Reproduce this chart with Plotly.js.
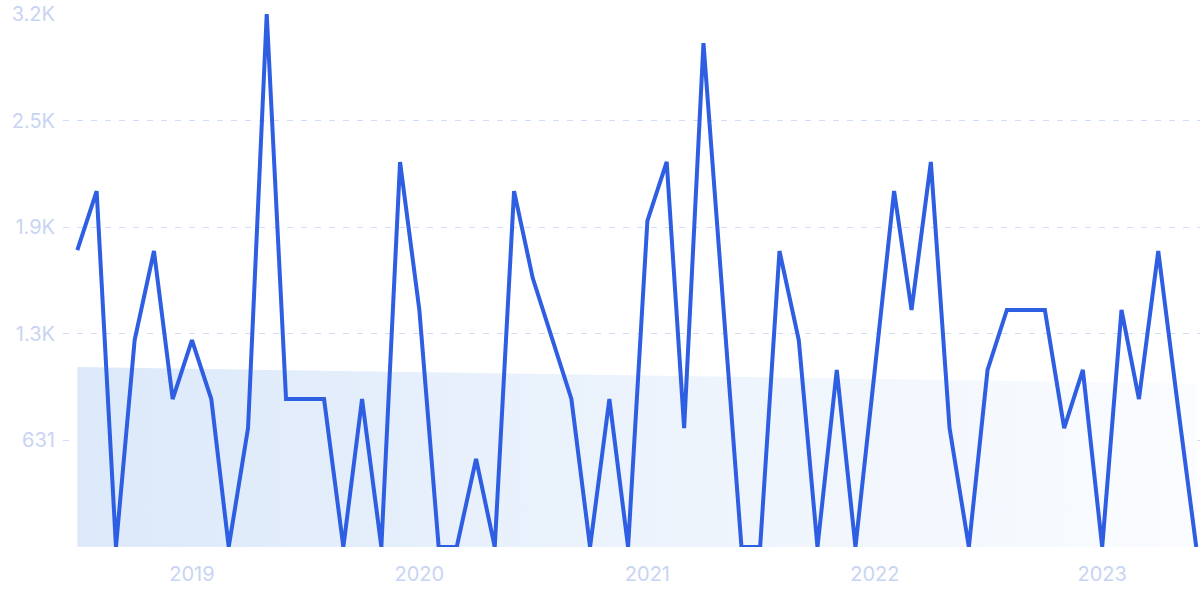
<!DOCTYPE html>
<html>
<head>
<meta charset="utf-8">
<script src="https://cdn.plot.ly/plotly-3.0.1.min.js"></script>
<style>
  html, body { margin: 0; padding: 0; background: #ffffff; }
  #chart { width: 1200px; height: 600px; }
</style>
</head>
<body>
<div id="chart"></div>
<script>
// Monthly dates (Jul 2018 – Jun 2023)
const months = [
  '2018-07-01','2018-08-01','2018-09-01','2018-10-01','2018-11-01','2018-12-01',
  '2019-01-01','2019-02-01','2019-03-01','2019-04-01','2019-05-01','2019-06-01',
  '2019-07-01','2019-08-01','2019-09-01','2019-10-01','2019-11-01','2019-12-01',
  '2020-01-01','2020-02-01','2020-03-01','2020-04-01','2020-05-01','2020-06-01',
  '2020-07-01','2020-08-01','2020-09-01','2020-10-01','2020-11-01','2020-12-01',
  '2021-01-01','2021-02-01','2021-03-01','2021-04-01','2021-05-01','2021-06-01',
  '2021-07-01','2021-08-01','2021-09-01','2021-10-01','2021-11-01','2021-12-01',
  '2022-01-01','2022-02-01','2022-03-01','2022-04-01','2022-05-01','2022-06-01',
  '2022-07-01','2022-08-01','2022-09-01','2022-10-01','2022-11-01','2022-12-01',
  '2023-01-01','2023-02-01','2023-03-01','2023-04-01','2023-05-01','2023-06-01'
];

// Values
const values = [
  1758, 2107, 0, 1225, 1752, 876,
  1225, 876, 0, 704, 3155, 876,
  876, 876, 0, 876, 0, 2279,
  1403, 0, 0, 521, 0, 2107,
  1592, 1225, 876, 0, 876, 0,
  1930, 2279, 704, 2983, 1492, 0,
  0, 1752, 1225, 0, 1048, 0,
  1048, 2107, 1403, 2279, 704, 0,
  1048, 1403, 1403, 1403, 704, 1048,
  0, 1403, 876, 1752, 876, 0
];

// Y tick values and labels
const yTickVals = [631, 1262, 1893, 2524, 3155];
const yTickText = ['631', '1.3K', '1.9K', '2.5K', '3.2K'];

// Linear trend of the series (drives the shaded band)
const n = values.length;
const idx = values.map((_, i) => i);
const mx = idx.reduce((a, b) => a + b, 0) / n;
const my = values.reduce((a, b) => a + b, 0) / n;
let sxy = 0, sxx = 0;
for (let i = 0; i < n; i++) { sxy += (i - mx) * (values[i] - my); sxx += (i - mx) * (i - mx); }
const slope = sxy / sxx;
const trend = idx.map(i => my + slope * (i - mx));

const labelColor = 'rgb(200,212,243)';
const gridColor = 'rgb(208,221,250)';

const traces = [
  {
    x: months, y: trend, type: 'scatter', mode: 'lines',
    line: { width: 0, color: 'rgba(0,0,0,0)' },
    fill: 'tozeroy',
    fillgradient: {
      type: 'horizontal',
      colorscale: [[0, 'rgb(220,233,250)'], [0.5, 'rgb(236,243,252)'], [1, 'rgb(250,252,255)']]
    },
    hoverinfo: 'skip', showlegend: false
  },
  {
    x: months, y: values, type: 'scatter', mode: 'lines',
    line: { color: 'rgb(46,94,225)', width: 4 },
    hoverinfo: 'skip', showlegend: false
  }
];

const layout = {
  width: 1200, height: 600,
  margin: { l: 63, r: 0, t: 14, b: 53 },
  paper_bgcolor: '#ffffff', plot_bgcolor: '#ffffff',
  font: { family: 'Inter, "Open Sans", sans-serif', size: 20, color: labelColor },
  showlegend: false,
  xaxis: {
    type: 'date',
    range: ['2018-06-08', '2023-06-07'],
    tick0: '2019-01-01', dtick: 'M12', tickformat: '%Y',
    showgrid: false, zeroline: false, showline: false,
    ticks: '', ticklabelstandoff: 13,
    tickfont: { family: 'Inter, "Open Sans", sans-serif', size: 20, color: labelColor }
  },
  yaxis: {
    range: [0, 3155],
    tickmode: 'array', tickvals: yTickVals, ticktext: yTickText,
    showgrid: true, gridcolor: gridColor, gridwidth: 1, griddash: '6px,8px',
    zeroline: false, showline: false, ticks: '',
    ticklabelstandoff: 7,
    tickfont: { family: 'Inter, "Open Sans", sans-serif', size: 20, color: labelColor }
  }
};

Plotly.newPlot('chart', traces, layout, { displayModeBar: false, staticPlot: true });
</script>
</body>
</html>
